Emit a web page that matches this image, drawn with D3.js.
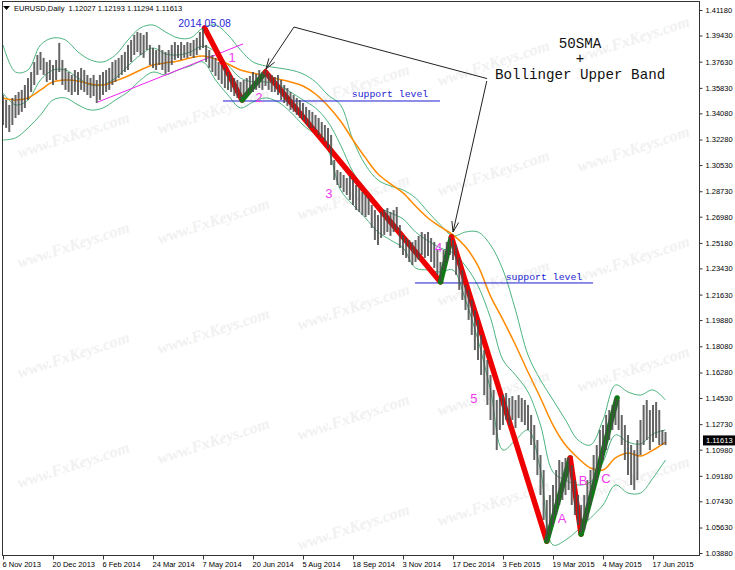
<!DOCTYPE html>
<html><head><meta charset="utf-8">
<script src="https://cdn.jsdelivr.net/npm/d3@7"></script>
<style>html,body{margin:0;padding:0;background:#fff;}svg{display:block}</style>
</head><body><svg id="c" width="735" height="570"></svg>
<script>
// ---- data (EURUSD daily, one entry per two bars, starting 6 Nov 2013) ----
const barHigh = [1.3534,1.3500,1.3466,1.3514,1.3534,1.3555,1.3569,1.3603,1.3651,1.3692,
1.3761,1.3809,1.3830,1.3789,1.3761,1.3775,1.3740,1.3775,1.3892,1.3775,
1.3720,1.3692,1.3672,1.3706,1.3692,1.3720,1.3706,1.3672,1.3651,1.3672,
1.3637,1.3672,1.3692,1.3706,1.3720,1.3761,1.3775,1.3789,1.3809,1.3830,
1.3878,1.3912,1.3947,1.3967,1.3960,1.3947,1.3967,1.3878,1.3857,1.3843,
1.3878,1.3843,1.3830,1.3843,1.3878,1.3898,1.3878,1.3898,1.3878,1.3898,
1.3892,1.3912,1.3926,1.3967,1.3995,1.3878,1.3843,1.3809,1.3789,1.3761,
1.3740,1.3720,1.3692,1.3672,1.3651,1.3637,1.3624,1.3637,1.3651,1.3665,
1.3692,1.3679,1.3706,1.3692,1.3706,1.3685,1.3672,1.3658,1.3672,1.3637,
1.3603,1.3582,1.3555,1.3534,1.3514,1.3500,1.3479,1.3452,1.3431,1.3418,
1.3397,1.3376,1.3349,1.3328,1.3308,1.3260,1.3088,1.3019,1.3005,1.2985,
1.2964,1.2978,1.2950,1.2916,1.2895,1.2868,1.2847,1.2826,1.2779,1.2744,
1.2710,1.2731,1.2744,1.2758,1.2731,1.2744,1.2765,1.2641,1.2573,1.2552,
1.2538,1.2525,1.2538,1.2566,1.2593,1.2579,1.2593,1.2552,1.2525,1.2470,
1.2387,1.2470,1.2525,1.2559,1.2538,1.2504,1.2415,1.2332,1.2229,1.2195,
1.2126,1.2057,1.1989,1.1886,1.1782,1.1714,1.1611,1.1508,1.1439,1.1453,
1.1473,1.1487,1.1453,1.1466,1.1439,1.1473,1.1453,1.1439,1.1405,1.1336,
1.1267,1.1164,1.1061,1.0958,1.0752,1.0786,1.0855,1.0958,1.1027,1.1013,
1.1041,1.1047,1.0992,1.0889,1.0786,1.0718,1.0786,1.0889,1.0958,1.1061,
1.1130,1.1233,1.1267,1.1336,1.1370,1.1405,1.1453,1.1439,1.1336,1.1267,
1.1199,1.1130,1.1095,1.1164,1.1302,1.1405,1.1439,1.1370,1.1405,1.1425,
1.1370,1.1233,1.1219];
const barLow = [1.3328,1.3308,1.3280,1.3328,1.3376,1.3397,1.3418,1.3445,1.3500,1.3555,
1.3603,1.3672,1.3706,1.3672,1.3624,1.3637,1.3603,1.3637,1.3692,1.3603,
1.3569,1.3555,1.3534,1.3555,1.3534,1.3569,1.3555,1.3534,1.3514,1.3527,
1.3479,1.3500,1.3534,1.3555,1.3569,1.3603,1.3624,1.3651,1.3672,1.3692,
1.3706,1.3761,1.3809,1.3830,1.3809,1.3789,1.3843,1.3740,1.3720,1.3706,
1.3740,1.3706,1.3679,1.3692,1.3740,1.3775,1.3789,1.3775,1.3789,1.3789,
1.3802,1.3789,1.3809,1.3843,1.3857,1.3761,1.3720,1.3692,1.3665,1.3637,
1.3610,1.3582,1.3569,1.3555,1.3527,1.3514,1.3500,1.3514,1.3534,1.3548,
1.3555,1.3569,1.3582,1.3569,1.3596,1.3569,1.3555,1.3555,1.3534,1.3500,
1.3479,1.3459,1.3431,1.3418,1.3397,1.3376,1.3363,1.3335,1.3308,1.3308,
1.3294,1.3260,1.3239,1.3211,1.3170,1.3053,1.2950,1.2916,1.2895,1.2868,
1.2847,1.2813,1.2779,1.2744,1.2731,1.2710,1.2696,1.2710,1.2621,1.2538,
1.2504,1.2552,1.2573,1.2593,1.2566,1.2593,1.2607,1.2483,1.2435,1.2415,
1.2387,1.2366,1.2387,1.2401,1.2435,1.2415,1.2428,1.2387,1.2346,1.2298,
1.2250,1.2332,1.2387,1.2435,1.2401,1.2298,1.2195,1.2126,1.2057,1.1989,
1.1886,1.1782,1.1714,1.1611,1.1473,1.1405,1.1302,1.1199,1.1095,1.1233,
1.1267,1.1302,1.1267,1.1302,1.1247,1.1315,1.1288,1.1267,1.1233,1.1130,
1.1027,1.0923,1.0786,1.0615,1.0463,1.0512,1.0580,1.0649,1.0718,1.0752,
1.0786,1.0821,1.0718,1.0649,1.0580,1.0525,1.0546,1.0615,1.0718,1.0821,
1.0889,1.0958,1.1027,1.1095,1.1164,1.1233,1.1267,1.1233,1.1130,1.1027,
1.0923,1.0855,1.0821,1.0889,1.1061,1.1130,1.1164,1.1095,1.1150,1.1178,
1.1130,1.1130,1.1129];
// indicators sampled every 8 bars
const sma50 = [1.3514,1.3500,1.3514,1.3569,1.3624,1.3637,1.3631,1.3610,1.3603,1.3631,
1.3665,1.3706,1.3740,1.3754,1.3768,1.3789,1.3802,1.3782,1.3747,1.3706,
1.3685,1.3665,1.3644,1.3624,1.3596,1.3541,1.3459,1.3356,1.3225,1.3102,
1.2992,1.2924,1.2862,1.2772,1.2689,1.2628,1.2573,1.2491,1.2360,1.2153,
1.1989,1.1817,1.1631,1.1453,1.1267,1.1130,1.1041,1.0972,1.0958,1.1041,
1.1075,1.1054,1.1095,1.1150];
const bbUpper = [1.3878,1.3692,1.3706,1.3878,1.3926,1.3912,1.3830,1.3775,1.3761,1.3809,
1.3912,1.3995,1.4015,1.3967,1.3926,1.3926,1.3995,1.4015,1.3947,1.3843,
1.3761,1.3734,1.3720,1.3706,1.3679,1.3624,1.3534,1.3466,1.3225,1.3053,
1.2950,1.2909,1.2882,1.2827,1.2731,1.2641,1.2566,1.2593,1.2593,1.2504,
1.2332,1.2057,1.1748,1.1576,1.1439,1.1302,1.1164,1.1130,1.1302,1.1542,
1.1494,1.1473,1.1508,1.1439];
const bbMiddle = [1.3548,1.3466,1.3500,1.3637,1.3706,1.3706,1.3651,1.3603,1.3603,1.3651,
1.3734,1.3809,1.3857,1.3816,1.3809,1.3830,1.3871,1.3830,1.3740,1.3651,
1.3624,1.3624,1.3603,1.3555,1.3500,1.3445,1.3349,1.3191,1.3005,1.2882,
1.2772,1.2724,1.2683,1.2593,1.2532,1.2483,1.2449,1.2360,1.2223,1.2002,
1.1714,1.1611,1.1494,1.1267,1.0944,1.0889,1.0855,1.0876,1.1013,1.1199,
1.1150,1.1137,1.1206,1.1233];
const bbLower = [1.3225,1.3239,1.3308,1.3397,1.3500,1.3514,1.3466,1.3431,1.3445,1.3500,
1.3555,1.3637,1.3692,1.3672,1.3706,1.3734,1.3761,1.3637,1.3534,1.3445,
1.3486,1.3514,1.3486,1.3418,1.3328,1.3260,1.3156,1.2882,1.2779,1.2689,
1.2593,1.2538,1.2483,1.2346,1.2332,1.2318,1.2332,1.2126,1.1851,1.1508,
1.1095,1.1164,1.1233,1.0958,1.0443,1.0477,1.0546,1.0628,1.0718,1.0855,
1.0800,1.0800,1.0903,1.1027];
const dateTicks = [0,32,64,96,128,160,192,224,256,288,320,352,384,416];
const dateLabels = ["6 Nov 2013","20 Dec 2013","6 Feb 2014","24 Mar 2014","7 May 2014","20 Jun 2014",
"5 Aug 2014","18 Sep 2014","3 Nov 2014","17 Dec 2014","3 Feb 2015","19 Mar 2015","4 May 2015","17 Jun 2015"];
const priceTicks = [1.41180,1.39430,1.37630,1.35830,1.34080,1.32280,1.30530,1.28730,1.26980,1.25180,
1.23430,1.21630,1.19880,1.18080,1.16280,1.14530,1.12730,1.10980,1.09180,1.07430,1.05630,1.03880];
const lastPrice = 1.11613;
// wave pivots (bar index, price)
const waveBars = [129,153,168,280,287,348,363,370,393];
const wavePrices = [1.3995,1.3500,1.3692,1.2250,1.2559,1.0470,1.1041,1.0518,1.1453];
const waveLabels = ["1","2","3","4","5","A","B","C"];
const waveLabelBars = [146.6,163.8,208.6,278.8,301.4,357.8,371.2,385.9];
const waveLabelPrices = [1.3789,1.3514,1.2861,1.2490,1.1453,1.0628,1.0883,1.0903];
const supportBars = [[140.8,279.7],[263.7,377.6]];
const supportPrices = [1.3493,1.2243];
const supportTextBars = [247.7,346.2];
const supportTextPrices = [1.3520,1.2265];
const trendBars = [60.8,153.6];
const trendPrices = [1.3486,1.3885];
const arrowFrom = [[186.2,1.4001],[186.2,1.4001],[309.6,1.3630]];
const arrowTo = [[168.3,1.3713],[309.8,1.3647],[288.0,1.2593]];
const arrowHead = [true,false,true];
const noteLines = ["50SMA","+","Bollinger Upper Band"];
const noteBar = 369.3;
const notePrices = [1.3857,1.3751,1.3644];
const peakLabel = "2014.05.08";

// ---- drawing ----
const svg = d3.select('#c');
const L=2, R=700, T=1, B=555;
const x = d3.scaleLinear().domain([0,320]).range([3,503]);
const y = d3.scaleLinear().domain([1.0388,1.4118]).range([553,10]);

svg.append('rect').attr('width',735).attr('height',570).attr('fill','#fff');
svg.append('clipPath').attr('id','clip').append('rect').attr('x',L).attr('y',T).attr('width',R-L).attr('height',B-T);

// watermark (decoration)
const wm = svg.append('g').attr('clip-path','url(#clip)');
for(let r=0;r<6;r++){for(let c=0;c<5;c++){
  const cx=75+140*c, cy=140+110*r-24*c;
  if(cy<30||cy>540) continue;
  wm.append('text').attr('transform',`translate(${cx},${cy}) rotate(-18)`)
    .attr('text-anchor','middle').attr('font-family','Liberation Serif').attr('font-style','italic')
    .attr('font-weight','bold').attr('font-size',16).attr('fill','#f1f1f1').text('www.FxKeys.com');
}}

const g = svg.append('g').attr('clip-path','url(#clip)');

// indicator lines
const lineGen = d3.line().x((d,k)=>x(k*8)).y(d=>y(d)).curve(d3.curveCatmullRom);
[bbUpper,bbMiddle,bbLower].forEach(s=>{
  g.append('path').attr('d',lineGen(s)).attr('fill','none').attr('stroke','#4cb47e').attr('stroke-width',1);
});
g.append('path').attr('d',lineGen(sma50)).attr('fill','none').attr('stroke','#ff8a00').attr('stroke-width',1.5);

// trend line (magenta)
g.append('line').attr('x1',x(trendBars[0])).attr('y1',y(trendPrices[0])).attr('x2',x(trendBars[1])).attr('y2',y(trendPrices[1]))
 .attr('stroke','#ee22ee').attr('stroke-width',1);

// support lines
supportPrices.forEach((p,i)=>{
  g.append('line').attr('x1',x(supportBars[i][0])).attr('x2',x(supportBars[i][1])).attr('y1',y(p)).attr('y2',y(p))
   .attr('stroke','#1c1cd0').attr('stroke-width',1);
  g.append('text').attr('x',x(supportTextBars[i])).attr('y',y(supportTextPrices[i])).attr('text-anchor','middle')
   .attr('font-family','Liberation Mono').attr('font-size',9.8).attr('fill','#1c1cd0').text('support level');
});

// waves
for(let i=0;i<waveBars.length-1;i++){
  g.append('line').attr('x1',x(waveBars[i])).attr('y1',y(wavePrices[i])).attr('x2',x(waveBars[i+1])).attr('y2',y(wavePrices[i+1]))
   .attr('stroke', i%2===0?'#ee0000':'#0e7a12').attr('stroke-width',5.5).attr('stroke-linecap','round');
}

// price bars
const bars = barHigh.map((h,i)=>({b:2*i,h:h,l:barLow[i]}));
g.selectAll('line.bar').data(bars).join('line').attr('class','bar')
 .attr('x1',d=>x(d.b)).attr('x2',d=>x(d.b)).attr('y1',d=>y(d.h)).attr('y2',d=>y(d.l))
 .attr('stroke','#4a4a4a').attr('stroke-width',2).attr('opacity',0.85);

// arrows
arrowFrom.forEach((f,i)=>{
  const x1=x(f[0]),y1=y(f[1]),x2=x(arrowTo[i][0]),y2=y(arrowTo[i][1]);
  g.append('line').attr('x1',x1).attr('y1',y1).attr('x2',x2).attr('y2',y2).attr('stroke','#222').attr('stroke-width',1);
  if(arrowHead[i]){
    const a=Math.atan2(y1-y2,x1-x2), len=11, sp=0.32;
    g.append('path').attr('d',`M${x2+len*Math.cos(a+sp)},${y2+len*Math.sin(a+sp)} L${x2},${y2} L${x2+len*Math.cos(a-sp)},${y2+len*Math.sin(a-sp)}`)
     .attr('fill','none').attr('stroke','#222').attr('stroke-width',1);
  }
});

// wave labels
waveLabels.forEach((t,i)=>{
  g.append('text').attr('x',x(waveLabelBars[i])).attr('y',y(waveLabelPrices[i])).attr('dy','0.35em').attr('text-anchor','middle')
   .attr('font-family','Liberation Sans').attr('font-size',13).attr('fill','#f03cf0').text(t);
});

// peak label
g.append('text').attr('x',x(waveBars[0])).attr('y',y(wavePrices[0])-1).attr('text-anchor','middle')
 .attr('font-family','Liberation Sans').attr('font-size',10.5).attr('fill','#2a2ad8').text(peakLabel);

// note text
noteLines.forEach((t,i)=>{
  g.append('text').attr('x',x(noteBar)).attr('y',y(notePrices[i])).attr('text-anchor','middle')
   .attr('font-family','Liberation Mono').attr('font-size',14.2).attr('fill','#111').text(t);
});

// frame
svg.append('rect').attr('x',L+0.5).attr('y',T+0.5).attr('width',R-L-1).attr('height',B-T).attr('fill','none').attr('stroke','#333').attr('stroke-width',1);

// right axis
const ax = svg.append('g').attr('transform',`translate(${R-0.5},0)`)
 .call(d3.axisRight(y).tickValues(priceTicks).tickFormat(d3.format('.5f')).tickSize(3).tickPadding(3));
ax.select('.domain').remove();
ax.selectAll('text').attr('font-family','Liberation Sans').attr('font-size',7.5).attr('fill','#000');
ax.selectAll('line').attr('stroke','#333');

// last price box
const ly=y(lastPrice);
svg.append('rect').attr('x',R+3).attr('y',ly-5).attr('width',33).attr('height',10).attr('fill','#000');
svg.append('text').attr('x',R+6).attr('y',ly).attr('dy','0.35em').attr('font-family','Liberation Sans').attr('font-size',7.5).attr('fill','#fff').text(d3.format('.5f')(lastPrice));

// bottom axis
const bx = svg.append('g').attr('transform',`translate(0,${B+0.5})`)
 .call(d3.axisBottom(x).tickValues(dateTicks).tickFormat((d,i)=>dateLabels[i]).tickSize(4).tickPadding(2));
bx.select('.domain').remove();
bx.selectAll('text').attr('text-anchor','start').attr('dx','-1').attr('font-family','Liberation Sans').attr('font-size',7.5).attr('fill','#000');
bx.selectAll('line').attr('stroke','#333');

// header
svg.append('path').attr('d','M3,6 L10,6 L6.5,10 Z').attr('fill','#000');
svg.append('text').attr('x',14).attr('y',11).attr('font-family','Liberation Sans').attr('font-size',7.5).attr('fill','#000')
 .style('white-space','pre').text('EURUSD,Daily  1.12027 1.12193 1.11294 1.11613');
</script></body></html>
